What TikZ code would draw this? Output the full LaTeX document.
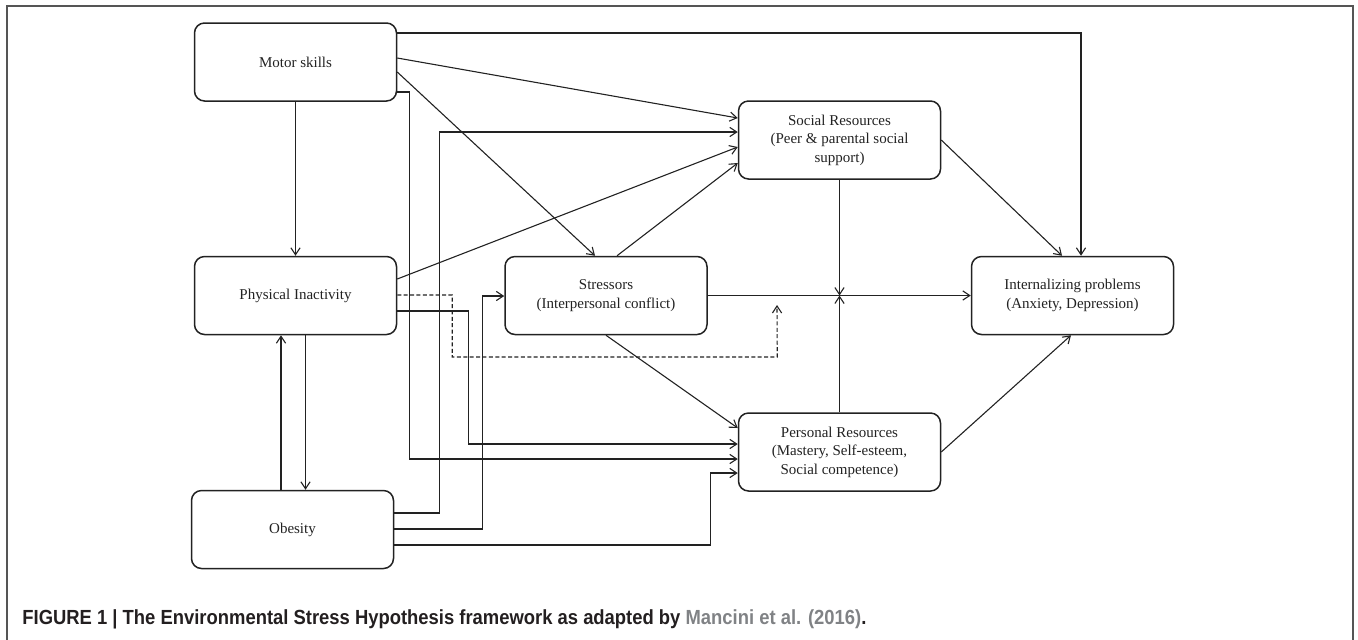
\documentclass[tikz,border=0pt]{standalone}
\usepackage{fontspec}
\setmainfont{Liberation Serif}
\newfontfamily\capfont{Liberation Sans}
\usepackage{graphicx}
\usetikzlibrary{arrows.meta,calc}
\definecolor{ink}{HTML}{222222}
\definecolor{framec}{HTML}{555555}
\definecolor{capink}{HTML}{231F20}
\definecolor{capgray}{HTML}{808285}
\tikzset{
  box/.style={draw=ink, line width=0.75pt, rounded corners=5pt, minimum width=101pt, minimum height=39pt,
    inner sep=0pt, align=center, font=\fontsize{7.5}{9.25}\selectfont, text=ink},
  conn/.style={draw=ink, line width=0.55pt, -{Straight Barb[length=3.5pt,width=4.6pt]}},
  dconn/.style={conn, dash pattern=on 2pt off 1.2pt},
}
\begin{document}
\begin{tikzpicture}[x=0.5pt,y=-0.5pt]
\useasboundingbox (0,0) rectangle (1358,639);
\draw[framec, line width=0.6pt] (7,660) -- (7,6) -- (1353,6) -- (1353,660);

\node[box] (motor) at (295.5,62) {Motor skills};
\node[box] (pi) at (295.5,295.5) {Physical Inactivity};
\node[box] (obes) at (292.5,529.5) {Obesity};
\node[box] (stress) at (606,295.5) {Stressors\\(Interpersonal conflict)};
\node[box] (social) at (839.5,140) {Social Resources\\(Peer \& parental social\\support)};
\node[box] (personal) at (839.5,452) {Personal Resources\\(Mastery, Self-esteem,\\Social competence)};
\node[box] (intern) at (1072.5,295.5) {Internalizing problems\\(Anxiety, Depression)};

\coordinate (junc) at (social.south |- stress.east);
\coordinate (dashend) at (777,305);

% Motor skills
\draw[conn] (motor.south) -- (pi.north);
\draw[conn] ([yshift=14.5pt]motor.east) -| ([xshift=4.25pt]intern.north);
\draw[conn] ([yshift=2pt]motor.east) -- ([yshift=11pt]social.west);
\draw[conn] ([yshift=-5pt]motor.east) -- ([xshift=-5.5pt]stress.north);
\draw[conn] ([yshift=-15pt]motor.east) -- ++(12,0) |- ([yshift=-3.5pt]personal.west);

% Physical inactivity
\draw[conn] ([yshift=8.25pt]pi.east) -- ([yshift=-3.5pt]social.west);
\draw[dconn] ([yshift=0.25pt]pi.east) -- ++(55,0) -- ++(0,62) -- ++(325,0) -- (dashend);
\draw[conn] ([yshift=-7.75pt]pi.east) -- ++(71,0) |- ([yshift=4pt]personal.west);
\draw[conn] ([xshift=5pt]pi.south) -- ([xshift=6.5pt]obes.north);

% Obesity
\draw[conn] ([xshift=-5.75pt]obes.north) -- ([xshift=-7.25pt]pi.south);
\draw[conn] ([yshift=8.25pt]obes.east) -- ++(45,0) |- ([yshift=4pt]social.west);
\draw[conn] ([yshift=0.25pt]obes.east) -- ++(88,0) |- ([yshift=-0.25pt]stress.west);
\draw[conn] ([yshift=-7.75pt]obes.east) -- ++(316,0) |- ([yshift=-10.5pt]personal.west);

% Stressors
\draw[conn] ([xshift=5.5pt]stress.north) -- ([yshift=-11.5pt]social.west);
\draw[conn] (stress.east) -- (intern.west);
\draw[conn] (stress.south) -- ([yshift=12pt]personal.west);

% Resources
\draw[conn] (social.east) -- ([xshift=-5.25pt]intern.north);
\draw[conn] (social.south) -- (junc);
\draw[conn] (personal.north) -- (junc);
\draw[conn] (personal.east) -- ([xshift=-0.75pt]intern.south);

% Caption
\node[anchor=base west, inner sep=0pt] (cap) at (22,624) {\resizebox{422pt}{7.4pt}{\capfont\bfseries\color{capink}FIGURE 1 | The Environmental Stress Hypothesis framework as adapted by \textcolor{capgray}{Mancini et al. (2016)}.}};
\end{tikzpicture}
\end{document}
